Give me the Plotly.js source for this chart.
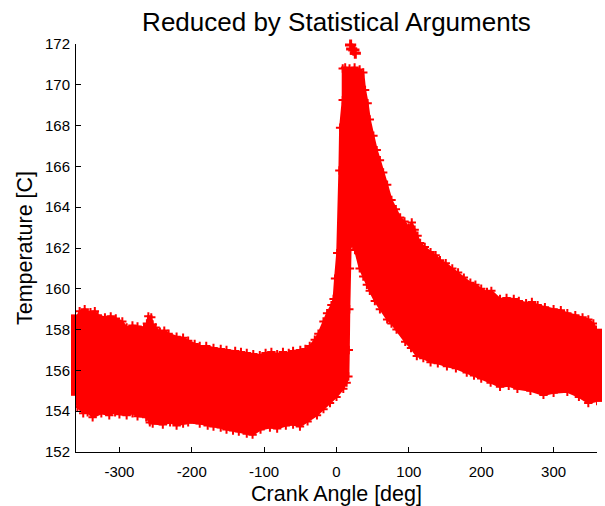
<!DOCTYPE html>
<html>
<head>
<meta charset="utf-8">
<script src="https://cdn.plot.ly/plotly-3.0.1.min.js"></script>
<style>html,body{margin:0;padding:0;background:#fff;}#chart{width:605px;height:506px;}</style>
</head>
<body>
<div id="chart"></div>
<script>
// Upper envelope of the scatter cloud (crank angle [deg], temperature [C])
var upperX = [-360,-355,-348,-340,-334,-330,-320,-312,-305,-296,-290,-282,-275,-266,-262,-260,-256,-254,-250,-244,-238,-232,-221,-212,-205,-196,-189,-180,-170,-160,-152,-140,-132,-124,-115,-106,-98,-90,-82,-74,-66,-60,-50,-43,-37,-30,-25,-18,-13,-7,-4,-2,1,4,5,8.6,8.6,12,18,25,32,37,39.5,43,46,51,55.6,60,64.5,70,76,82,88,94,100,104,108,112,115.6,122,130,137,143,151,160,168,176,185,192,200,208,214,226,235,245,252,262,270,278,288,300,310,319,330,340,348,355,360];
var upperY = [158.5,158.9,159.0,158.85,158.9,158.7,158.6,158.65,158.55,158.4,158.1,158.2,158.15,158.1,158.3,158.65,158.6,158.25,158.1,157.9,157.95,157.8,157.65,157.6,157.45,157.3,157.2,157.2,157.1,157.05,157.0,156.95,156.9,156.85,156.8,156.75,156.85,156.9,156.8,156.9,156.85,156.95,157.0,157.05,157.2,157.5,157.8,158.4,158.8,159.2,159.5,160.5,161.75,165.8,167.9,169.25,170.8,170.85,170.8,170.85,170.75,170.6,169.75,169.1,168.3,167.5,166.8,166.3,165.7,165.1,164.35,163.9,163.5,163.3,163.0,163.25,162.9,162.6,162.25,162.05,161.8,161.65,161.4,161.25,161.0,160.8,160.55,160.3,160.2,160.0,159.85,159.9,159.5,159.55,159.5,159.4,159.3,159.35,159.2,159.1,159.0,158.95,158.8,158.7,158.6,158.5,158.3,158.0];
// Lower envelope (left part, strand, notch, right band)
var lowerX = [-360,-358,-350,-344,-337,-325,-314,-306,-300,-290,-282,-275,-263,-258,-254,-240,-230,-221,-212,-205,-189,-178,-170,-160,-152,-143,-135,-124,-116,-105,-92,-82,-70,-60,-50.5,-40,-27,-18,-9,0,9.4,14,16.4,17,17.7,18.5,19.6,23,25.6,32,37,42,46,53,60,70,76,83,95,103,111,120,130,140,152.6,165,180,190,200,213,226,238,250,268,286,300,319,335,348,360];
var lowerY = [154.6,154.2,153.9,153.95,153.7,153.9,153.8,153.95,153.85,153.8,153.9,153.75,153.7,153.45,153.4,153.35,153.45,153.3,153.4,153.45,153.4,153.3,153.25,153.2,153.1,153.05,153.0,152.9,152.85,153.1,153.2,153.15,153.3,153.35,153.25,153.5,153.8,154.1,154.4,154.7,155.1,155.4,155.7,157.0,159.0,161.0,162.2,162.1,161.9,161.0,160.6,160.2,159.9,159.4,159.0,158.5,158.3,158.0,157.4,157.1,156.7,156.6,156.4,156.35,156.2,156.1,155.9,155.75,155.6,155.4,155.2,155.25,155.1,155.0,154.8,154.9,154.95,154.7,154.4,154.5];
// Isolated high readings near the peak
var outX = [16.5,19.5,21,24,26];
var outY = [172.05,171.95,171.75,171.7,171.55];
// Markers sitting on the axis limits
var edgeLX = [-360,-360,-360,-360,-360,-360,-360,-360,-360,-360];
var edgeLY = [155.0,155.4,155.8,156.2,156.6,157.0,157.4,157.8,158.2,158.5];
var edgeRX = [360,360,360,360,360,360,360,360,360];
var edgeRY = [154.7,155.1,155.5,155.9,156.3,156.7,157.1,157.5,157.8];
var xTickVals = [-300,-200,-100,0,100,200,300];
var xTickText = ['-300','-200','-100','0','100','200','300'];
var yTickVals = [152,154,156,158,160,162,164,166,168,170,172];
var yTickText = ['152','154','156','158','160','162','164','166','168','170','172'];

var red = 'rgb(255,0,0)';
var polyX = upperX.concat(lowerX.slice().reverse());
var polyY = upperY.concat(lowerY.slice().reverse());

var traces = [
  {x: polyX, y: polyY, type: 'scatter', mode: 'lines', fill: 'toself', fillcolor: red,
   line: {color: red, width: 2}, hoverinfo: 'skip', showlegend: false},
  {x: upperX.concat(lowerX), y: upperY.concat(lowerY), type: 'scatter', mode: 'markers',
   marker: {symbol: 'cross-thin', size: 6, color: red, line: {color: red, width: 2}}, showlegend: false},
  {x: outX, y: outY, type: 'scatter', mode: 'markers', cliponaxis: false,
   marker: {symbol: 'cross-thin', size: 8, color: red, line: {color: red, width: 3}}, showlegend: false},
  {x: edgeLX.concat(edgeRX), y: edgeLY.concat(edgeRY), type: 'scatter', mode: 'markers', cliponaxis: false,
   marker: {symbol: 'square', size: 10, color: red, line: {width: 0}}, showlegend: false}
];

var font = 'Liberation Sans, Arial, Helvetica, sans-serif';
var layout = {
  width: 605, height: 506,
  margin: {l: 76, r: 8, t: 44, b: 54, pad: 0},
  paper_bgcolor: '#fff', plot_bgcolor: '#fff',
  font: {family: font, color: '#000'},
  showlegend: false,
  title: {text: 'Reduced by Statistical Arguments', font: {family: font, size: 26, color: '#000'},
          x: 0.5, xanchor: 'center', xref: 'paper', y: 1 - 22/506, yanchor: 'middle', yref: 'container'},
  xaxis: {range: [-360, 360], showgrid: false, zeroline: false, showline: true, linecolor: '#000', linewidth: 1,
          mirror: false, ticks: 'inside', ticklen: 5, tickcolor: '#000', tickwidth: 1,
          tickmode: 'array', tickvals: xTickVals, ticktext: xTickText, ticklabelstandoff: 6,
          tickfont: {family: font, size: 15, color: '#000'},
          title: {text: 'Crank Angle [deg]', font: {family: font, size: 21.5, color: '#000'}, standoff: 11},
          automargin: false, fixedrange: true},
  yaxis: {range: [152, 172], showgrid: false, zeroline: false, showline: true, linecolor: '#000', linewidth: 1,
          mirror: false, ticks: 'inside', ticklen: 5, tickcolor: '#000', tickwidth: 1,
          tickmode: 'array', tickvals: yTickVals, ticktext: yTickText, ticklabelstandoff: 2,
          tickfont: {family: font, size: 15, color: '#000'},
          title: {text: 'Temperature [C]', font: {family: font, size: 21.5, color: '#000'}, standoff: 6},
          automargin: false, fixedrange: true}
};

Plotly.newPlot('chart', traces, layout, {staticPlot: true, displayModeBar: false});
</script>
</body>
</html>
